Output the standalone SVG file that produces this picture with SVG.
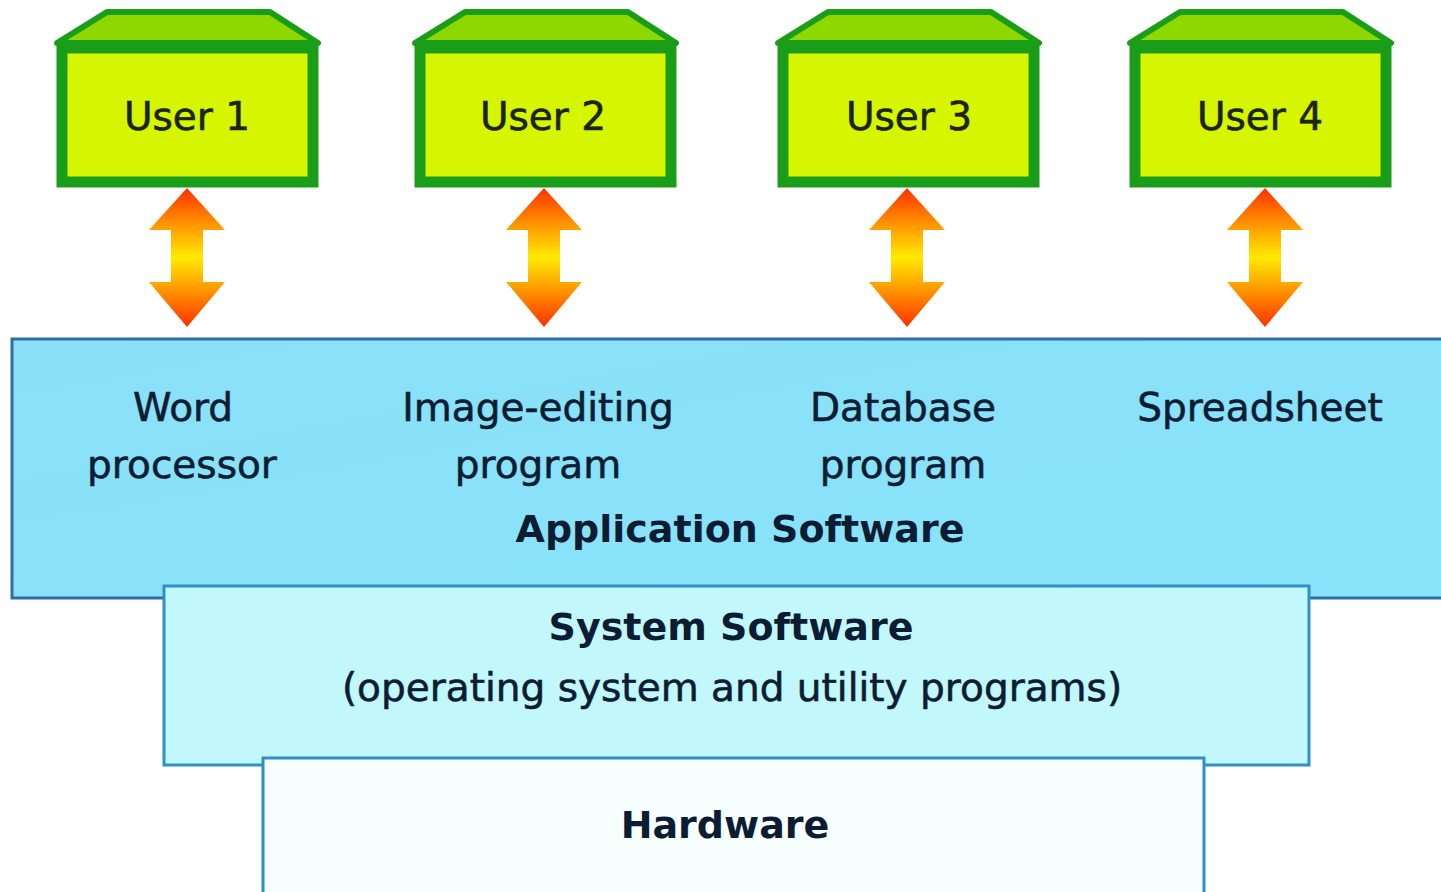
<svg xmlns="http://www.w3.org/2000/svg" width="1441" height="892" viewBox="0 0 1441 892">
<defs>
<linearGradient id="arrowGrad" x1="0" y1="0" x2="0" y2="1">
<stop offset="0" stop-color="#ff3000"/>
<stop offset="0.28" stop-color="#ff9c00"/>
<stop offset="0.5" stop-color="#ffea00"/>
<stop offset="0.72" stop-color="#ff9c00"/>
<stop offset="1" stop-color="#ff3000"/>
</linearGradient>
<linearGradient id="appGrad" x1="0" y1="0" x2="1" y2="1">
<stop offset="0" stop-color="#8ae0f8"/>
<stop offset="1" stop-color="#88e4fa"/>
</linearGradient>
<g id="userBox">
<polygon points="-130,43 -80,12 83,12 131,43" fill="#8ed800" stroke="#1a9e1a" stroke-width="6" stroke-linejoin="round"/>
<rect x="-125" y="48" width="251" height="134" fill="#d6f500" stroke="#1a9e1a" stroke-width="11"/>
</g>
<path id="dblArrow" d="M0,188 L38,230 L16,230 L16,282 L38,282 L0,327 L-38,282 L-16,282 L-16,230 L-38,230 Z" fill="url(#arrowGrad)"/>
</defs>
<style>
.ut{font-family:"DejaVu Sans","Liberation Sans",sans-serif;font-size:39px;fill:#1b2400;stroke:#1b2400;stroke-width:0.6;text-anchor:middle}
.at{font-family:"DejaVu Sans","Liberation Sans",sans-serif;font-size:39px;fill:#0c1d33;stroke:#0c1d33;stroke-width:0.6;text-anchor:middle}
.bt{font-family:"DejaVu Sans","Liberation Sans",sans-serif;font-size:38px;font-weight:bold;fill:#0c1d33;text-anchor:middle}
</style>
<rect width="1441" height="892" fill="#ffffff"/>
<g id="connectors">
<use href="#dblArrow" x="187"/>
<use href="#dblArrow" x="544"/>
<use href="#dblArrow" x="907"/>
<use href="#dblArrow" x="1265"/>
</g>
<g id="app-software">
<rect x="12" y="339" width="1440" height="259" fill="url(#appGrad)" stroke="#2f6fa6" stroke-width="3"/>
<text class="at" x="183" y="421">Word</text>
<text class="at" x="182" y="478">processor</text>
<text class="at" x="538" y="421">Image-editing</text>
<text class="at" x="538" y="478">program</text>
<text class="at" x="903" y="421">Database</text>
<text class="at" x="903" y="478">program</text>
<text class="at" x="1260" y="421">Spreadsheet</text>
<text class="bt" x="740" y="542">Application Software</text>
</g>
<g id="system-software">
<rect x="164" y="586" width="1145" height="179" fill="#c2f8fc" stroke="#2f8fc8" stroke-width="3"/>
<text class="bt" x="731" y="640">System Software</text>
<text class="at" x="732" y="701">(operating system and utility programs)</text>
</g>
<g id="hardware">
<rect x="263" y="758" width="941" height="150" fill="#f6fefe" stroke="#2f8fc8" stroke-width="3"/>
<text class="bt" x="725" y="838">Hardware</text>
</g>
<g id="user1">
<use href="#userBox" x="187"/>
<text class="ut" x="187" y="130">User 1</text>
</g>
<g id="user2">
<use href="#userBox" x="545"/>
<text class="ut" x="543" y="130">User 2</text>
</g>
<g id="user3">
<use href="#userBox" x="908"/>
<text class="ut" x="909" y="130">User 3</text>
</g>
<g id="user4">
<use href="#userBox" x="1260"/>
<text class="ut" x="1260" y="130">User 4</text>
</g>
</svg>
